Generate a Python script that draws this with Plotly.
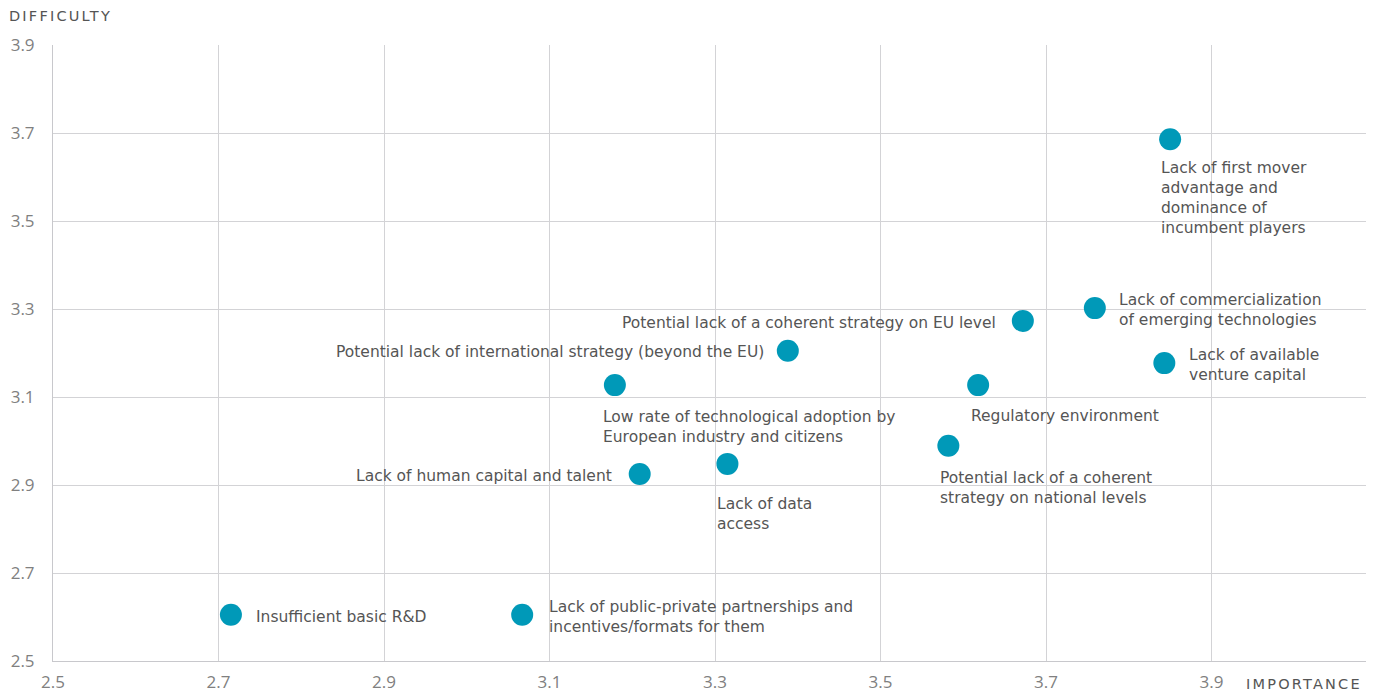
import plotly.graph_objects as go

labels = [
    "Lack of first mover<br>advantage and<br>dominance of<br>incumbent players",
    "Lack of commercialization<br>of emerging technologies",
    "Lack of available<br>venture capital",
    "Potential lack of a coherent strategy on EU level",
    "Regulatory environment",
    "Potential lack of a coherent<br>strategy on national levels",
    "Potential lack of international strategy (beyond the EU)",
    "Low rate of technological adoption by<br>European industry and citizens",
    "Lack of human capital and talent",
    "Lack of data<br>access",
    "Insufficient basic R&D",
    "Lack of public-private partnerships and<br>incentives/formats for them",
]
importance = [3.850, 3.759, 3.843, 3.672, 3.618, 3.582, 3.388, 3.179, 3.209, 3.315, 2.715, 3.067]
difficulty = [3.686, 3.302, 3.177, 3.273, 3.127, 2.989, 3.205, 3.127, 2.925, 2.948, 2.605, 2.605]
tick_vals = [2.5, 2.7, 2.9, 3.1, 3.3, 3.5, 3.7, 3.9]

# label placement style: (xanchor, yanchor, xshift, yshift)
placement = [
    ("left", "top", -11, -18),
    ("left", "middle", 22, -2),
    ("left", "middle", 23, -2),
    ("right", "middle", -25, -2),
    ("left", "middle", -9, -31),
    ("left", "top", -10, -21),
    ("right", "middle", -22, -1),
    ("left", "top", -14, -21),
    ("right", "middle", -26, -2),
    ("left", "top", -12, -29),
    ("left", "middle", 23, -2),
    ("left", "middle", 25, -2),
]

LABEL_FONT = "DejaVu Sans, Open Sans, sans-serif"
TICK_FONT = "Open Sans, Lato, sans-serif"

fig = go.Figure()
fig.add_trace(go.Scatter(
    x=importance, y=difficulty, mode="markers",
    marker=dict(size=22, color="#0099B8", line=dict(width=0)),
    hoverinfo="skip", showlegend=False,
))

for lab, xv, yv, (xa, ya, xs, ys) in zip(labels, importance, difficulty, placement):
    fig.add_annotation(
        x=xv, y=yv, xref="x", yref="y", text=lab, showarrow=False,
        xanchor=xa, yanchor=ya, xshift=xs, yshift=ys, align="left",
        font=dict(family=LABEL_FONT, size=15.5, color="#555555"),
    )

fig.add_annotation(x=0, y=1, xref="paper", yref="paper", xshift=-46, yshift=29,
                   text='<span style="letter-spacing:2.2px">DIFFICULTY</span>',
                   showarrow=False, xanchor="left", yanchor="middle",
                   font=dict(family=LABEL_FONT, size=14.5, color="#555555"))
fig.add_annotation(x=1, y=0, xref="paper", yref="paper", xshift=-2, yshift=-23,
                   text='<span style="letter-spacing:2.2px">IMPORTANCE</span>',
                   showarrow=False, xanchor="right", yanchor="middle",
                   font=dict(family=LABEL_FONT, size=14.5, color="#555555"))

fig.update_layout(
    width=1373, height=689,
    margin=dict(l=45, r=15, t=37, b=36, autoexpand=False),
    paper_bgcolor="white", plot_bgcolor="white",
    xaxis=dict(range=[2.5, 4.0867], tickvals=tick_vals, ticktext=[f"{v:.1f}" for v in tick_vals],
               showgrid=True, gridcolor="#D3D3D6", gridwidth=1, zeroline=False,
               showline=True, linecolor="#C8C8CC", linewidth=1, ticks="",
               ticklabelstandoff=6, automargin=False,
               tickfont=dict(family=TICK_FONT, size=17, color="#808080")),
    yaxis=dict(range=[2.5, 3.9], tickvals=tick_vals, ticktext=[f"{v:.1f}" for v in tick_vals],
               showgrid=True, gridcolor="#D3D3D6", gridwidth=1, zeroline=False,
               showline=True, linecolor="#C8C8CC", linewidth=1, ticks="",
               ticklabelstandoff=14, automargin=False,
               tickfont=dict(family=TICK_FONT, size=17, color="#808080")),
)

fig.write_html("out.html")
